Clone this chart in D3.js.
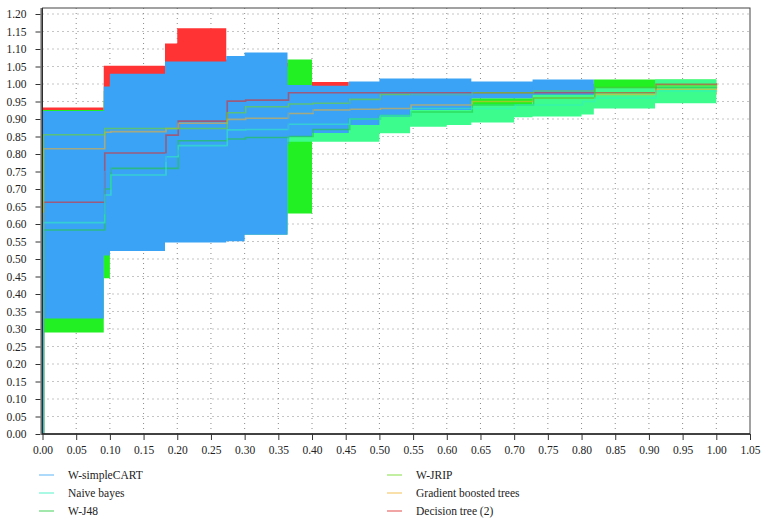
<!DOCTYPE html>
<html>
<head>
<meta charset="UTF-8">
<script src="https://d3js.org/d3.v7.min.js"></script>
<style>
    body { margin: 0; background: #fff; }
</style>
</head>
<body>
<svg width="768" height="528"></svg>
<script>
// false positive rate steps shared by all curves
const fpr = [0, 0.0909, 0.10, 0.1818, 0.20, 0.2727, 0.30, 0.3636, 0.40, 0.4545, 0.50,
             0.5455, 0.60, 0.6364, 0.70, 0.7273, 0.80, 0.8182, 0.90, 0.9091, 1.0];

// W-simpleCART
const cartLo   = [.33, .51, .523, .547, .547, .551, .569, .849, .86, .883, .907, .926, .926, .959, .959, .969, .969, .969, null, null, null];
const cartHi   = [.923, .993, 1.029, 1.064, 1.064, 1.08, 1.09, .997, .995, 1.007, 1.016, 1.016, 1.016, 1.007, 1.007, 1.013, 1.013, 1.013, null, null, null];
const cartMean = [.63, .75, .78, .80, .81, .82, .83, .92, .93, .95, .96, .97, .97, .98, .98, .99, .99, .99, null, null, null];
// Naive bayes
const nbLo   = [.40, .55, .55, .56, .56, .58, .58, .835, .835, .835, .859, .878, .883, .89, .905, .907, .913, .93, .93, .945, .945];
const nbHi   = [.85, .90, .90, .95, .95, .95, .95, .90, .90, .92, .93, .95, .95, .942, .942, .969, .969, .99, .99, 1.013, 1.013];
const nbMean = [.604, .683, .740, .792, .824, .869, .870, .885, .885, .90, .91, .93, .93, .93, .94, .94, .95, .96, .96, .98, .98];
// W-J48
const j48Lo   = [.29, .445, .53, .55, .55, .57, .57, .63, .85, .86, .88, .90, .90, .92, .92, .95, .95, .99, .99, .99, .99];
const j48Hi   = [.926, .98, 1.0, 1.0, 1.0, 1.05, 1.05, 1.07, .99, .99, 1.0, 1.0, 1.0, .959, .959, 1.0, 1.0, 1.013, 1.013, 1.013, 1.013];
const j48Mean = [.583, .70, .759, .759, .838, .843, .847, .85, .87, .90, .91, .92, .92, .94, .94, .96, .96, .99, .99, .99, .99];
// W-JRIP
const jripLo   = [.60, .70, .70, .72, .72, .80, .80, .90, .90, .92, .93, .94, .94, .96, .96, .97, .97, .97, .97, .97, .97];
const jripHi   = [.90, .95, .95, .98, .98, 1.0, 1.0, .99, .99, 1.0, 1.0, 1.0, 1.0, 1.0, 1.0, 1.0, 1.0, 1.0, 1.0, 1.0, 1.0];
const jripMean = [.855, .873, .873, .873, .873, .918, .935, .943, .945, .956, .97, .97, .97, .975, .975, .98, .98, .99, .99, .995, .995];
// Gradient boosted trees
const gbtLo   = [.60, .70, .70, .72, .72, .80, .80, .86, .88, .90, .91, .93, .93, .96, .96, .97, .97, .97, .97, .97, .97];
const gbtHi   = [.90, .95, .95, .98, .98, 1.0, 1.0, .99, .99, 1.0, 1.0, 1.0, 1.0, 1.0, 1.0, 1.0, 1.0, 1.0, 1.0, 1.0, 1.0];
const gbtMean = [.815, .862, .864, .873, .888, .899, .902, .916, .926, .928, .93, .94, .94, .95, .95, .96, .96, .97, .97, .985, .985];
// Decision tree (2)
const dtLo   = [.45, .60, .65, .70, .80, .85, .85, .90, .95, .95, .95, .95, .95, .96, .96, .96, .96, .97, .97, .97, .97];
const dtHi   = [.933, 1.052, 1.052, 1.116, 1.159, 1.07, 1.07, 1.06, 1.006, 1.0, 1.0, 1.0, 1.0, 1.0, 1.0, 1.0, 1.0, 1.0, 1.0, 1.0, 1.0];
const dtMean = [.662, .803, .803, .854, .894, .951, .954, .975, .975, .975, .975, .975, .975, .975, .975, .975, .975, .975, .975, .999, .999];

const names = ["W-simpleCART", "Naive bayes", "W-J48", "W-JRIP", "Gradient boosted trees", "Decision tree (2)"];
const fills = ["#3ba3f5", "#3dfc8e", "#22f022", "#8be04e", "#f0c050", "#ff3333"];
const lineColors = ["#3ba3f5", "#30f0c0", "#20c83a", "#70d820", "#f0b030", "#e02828"];

const xTicks = d3.range(0, 1.0501, 0.05);
const yTicks = d3.range(0, 1.2001, 0.05);

const series = [
    { lo: cartLo, hi: cartHi, mean: cartMean },
    { lo: nbLo, hi: nbHi, mean: nbMean },
    { lo: j48Lo, hi: j48Hi, mean: j48Mean },
    { lo: jripLo, hi: jripHi, mean: jripMean },
    { lo: gbtLo, hi: gbtHi, mean: gbtMean },
    { lo: dtLo, hi: dtHi, mean: dtMean }
].map((s, i) => ({
    name: names[i], fill: fills[i], stroke: lineColors[i],
    band: fpr.map((f, j) => ({ f, lo: s.lo[j], hi: s.hi[j] })),
    line: [{ f: 0, v: 0 }].concat(fpr.map((f, j) => ({ f, v: s.mean[j] })))
}));

const serif = "Liberation Serif, Times New Roman, DejaVu Serif, serif";
const svg = d3.select("svg");
const x = d3.scaleLinear().domain([0, 1.05]).range([42.5, 750]);
const y = d3.scaleLinear().domain([0, 1.2]).range([434, 14]);
const plotTop = 8;

// dotted grid
svg.append("g").selectAll("line").data(xTicks.slice(1, -1)).enter().append("line")
    .attr("x1", d => x(d)).attr("x2", d => x(d)).attr("y1", y(0)).attr("y2", plotTop)
    .attr("stroke", "#8a8a8a").attr("stroke-dasharray", "1,4");
svg.append("g").selectAll("line").data(yTicks.slice(1)).enter().append("line")
    .attr("x1", x(0)).attr("x2", 750).attr("y1", d => y(d)).attr("y2", d => y(d))
    .attr("stroke", "#8a8a8a").attr("stroke-dasharray", "1,4");

const area = d3.area()
    .defined(d => d.lo != null)
    .curve(d3.curveStepAfter)
    .x(d => x(d.f)).y0(d => y(d.lo)).y1(d => y(d.hi));

const line = d3.line()
    .defined(d => d.v != null)
    .curve(d3.curveStepAfter)
    .x(d => x(d.f)).y(d => y(d.v));

svg.append("line").attr("x1", 40.5).attr("x2", 40.5).attr("y1", plotTop).attr("y2", y(0))
    .attr("stroke", "#aaa");

// bands: last in legend drawn first
const order = series.slice().reverse();
svg.append("g").selectAll("path").data(order).enter().append("path")
    .attr("d", d => area(d.band))
    .attr("fill", d => d.fill);

svg.append("g").selectAll("path").data(order).enter().append("path")
    .attr("d", d => line(d.line))
    .attr("transform", "translate(1,0)")
    .attr("fill", "none")
    .attr("stroke", d => d.stroke)
    .attr("stroke-opacity", 0.58)
    .attr("stroke-width", 1.6);

// frame
svg.append("rect").attr("x", x(0)).attr("y", plotTop).attr("width", 750 - x(0)).attr("height", y(0) - plotTop)
    .attr("fill", "none").attr("stroke", "#444").attr("stroke-width", 1);
svg.append("line").attr("x1", x(0) - 0.5).attr("x2", x(0) - 0.5).attr("y1", plotTop).attr("y2", y(0) + 1)
    .attr("stroke", "#222").attr("stroke-width", 1.3);
svg.append("line").attr("x1", x(0)).attr("x2", 750).attr("y1", y(0)).attr("y2", y(0))
    .attr("stroke", "#222").attr("stroke-width", 1.5);

// axes
const yAxis = svg.append("g")
    .attr("transform", "translate(" + (x(0) - 2) + ",0)")
    .call(d3.axisLeft(y).tickValues(yTicks).tickFormat(d3.format(".2f")).tickSize(5).tickPadding(9));
const xAxis = svg.append("g")
    .attr("transform", "translate(0," + y(0) + ")")
    .call(d3.axisBottom(x).tickValues(xTicks).tickFormat(d3.format(".2f")).tickSize(6).tickPadding(6));
[yAxis, xAxis].forEach(a => {
    a.attr("font-family", serif).attr("font-size", 11.5);
    a.select(".domain").remove();
    a.selectAll(".tick line").attr("stroke", "#333");
    a.selectAll(".tick text").attr("fill", "#222");
});

// legend, two columns of three
const legend = svg.append("g")
    .attr("font-family", serif).attr("font-size", 11.5)
  .selectAll("g").data(series).enter().append("g")
    .attr("transform", (d, i) => "translate(" + (i < 3 ? 39 : 387) + "," + (475 + (i % 3) * 18) + ")");
legend.append("line").attr("x1", 0).attr("x2", 15).attr("y1", 0).attr("y2", 0)
    .attr("stroke", d => d.stroke).attr("stroke-opacity", 0.6).attr("stroke-width", 1.4);
legend.append("text").attr("x", 29).attr("y", 4).attr("fill", "#222").text(d => d.name);
</script>
</body>
</html>
